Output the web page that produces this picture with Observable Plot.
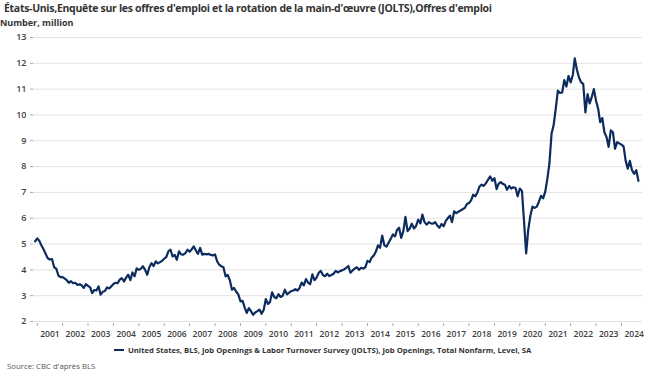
<!DOCTYPE html>
<html><head><meta charset="utf-8">
<script src="https://cdn.jsdelivr.net/npm/d3@7"></script>
<script src="https://cdn.jsdelivr.net/npm/@observablehq/plot@0.6"></script>
<style>
body{margin:0;background:#fff;font-family:"Open Sans",sans-serif;}
#wrap{position:relative;width:652px;height:381px;overflow:hidden;background:#fff;}
#title{position:absolute;left:4px;top:1px;font-size:10.5px;letter-spacing:-0.3px;font-weight:700;color:#333;white-space:nowrap;}
#sub{position:absolute;left:0px;top:16px;font-size:9px;font-weight:700;color:#333;white-space:nowrap;}
#chart{position:absolute;left:0;top:28px;}
#legend{position:absolute;left:114px;top:345px;font-size:7.7px;font-weight:700;color:#333;white-space:nowrap;display:flex;align-items:center;}
#legend .sw{display:inline-block;width:10px;height:2.5px;background:#0d2c5e;margin-right:4px;}
#source{position:absolute;left:7px;top:361px;font-size:7.8px;color:#555;white-space:nowrap;}
</style></head>
<body>
<div id="wrap">
  <div id="title"></div>
  <div id="sub"></div>
  <div id="chart"></div>
  <div id="legend"><span class="sw"></span><span id="legtext"></span></div>
  <div id="source"></div>
</div>
<script>
const titleText = "États-Unis,Enquête sur les offres d'emploi et la rotation de la main-d'œuvre (JOLTS),Offres d'emploi";
const subtitleText = "Number, million";
const seriesName = "United States, BLS, Job Openings & Labor Turnover Survey (JOLTS), Job Openings, Total Nonfarm, Level, SA";
const sourceText = "Source: CBC d'après BLS";

const startMonth = "2000-12";
const yTicks = [2,3,4,5,6,7,8,9,10,11,12,13];
const yearLabels = d3.range(2001, 2025);

// monthly values, millions (Dec 2000 onward)
const v2000 = [5.10];
const v2001 = [5.22,5.12,4.95,4.80,4.62,4.45,4.40,4.42,4.10,4.05,3.78,3.72];
const v2002 = [3.72,3.66,3.60,3.50,3.56,3.48,3.50,3.42,3.44,3.40,3.30,3.45];
const v2003 = [3.38,3.32,3.10,3.22,3.20,3.36,3.04,3.15,3.18,3.32,3.28,3.36];
const v2004 = [3.45,3.50,3.48,3.62,3.68,3.55,3.70,3.81,3.60,3.90,3.75,4.06];
const v2005 = [4.00,4.05,4.14,4.00,3.81,4.10,4.26,4.15,4.33,4.25,4.30,4.35];
const v2006 = [4.43,4.50,4.72,4.78,4.52,4.58,4.39,4.72,4.60,4.59,4.65,4.78];
const v2007 = [4.70,4.80,4.91,4.75,4.62,4.85,4.59,4.62,4.60,4.62,4.58,4.56];
const v2008 = [4.60,4.33,4.20,4.14,4.10,3.75,3.80,3.60,3.23,3.30,3.15,3.05];
const v2009 = [2.78,2.80,2.55,2.33,2.52,2.40,2.26,2.35,2.40,2.46,2.30,2.45];
const v2010 = [2.87,2.68,2.75,3.13,2.95,2.90,3.06,2.95,3.00,3.23,3.05,3.12];
const v2011 = [3.18,3.20,3.25,3.20,3.30,3.51,3.40,3.64,3.50,3.45,3.83,3.60];
const v2012 = [3.70,3.89,3.96,3.80,3.75,3.85,3.76,3.80,3.85,3.96,3.90,3.95];
const v2013 = [3.98,4.02,4.08,4.15,3.89,3.98,4.05,4.10,4.00,4.08,4.05,4.10];
const v2014 = [4.35,4.30,4.47,4.55,4.70,4.95,4.85,5.33,4.95,4.90,5.05,5.20];
const v2015 = [5.37,5.30,5.54,5.63,5.24,5.50,6.05,5.50,5.60,5.79,5.60,5.70];
const v2016 = [5.95,5.80,6.14,5.85,5.75,5.85,5.80,5.79,5.85,5.72,5.63,5.78];
const v2017 = [5.69,5.90,6.00,6.10,5.85,6.27,6.20,6.25,6.30,6.35,6.40,6.55];
const v2018 = [6.59,6.70,6.91,6.85,7.00,7.23,7.30,7.25,7.36,7.49,7.62,7.45];
const v2019 = [7.55,7.13,7.33,7.40,7.33,7.30,7.10,7.25,7.15,7.20,7.17,6.85];
const v2020 = [7.15,7.05,5.90,4.64,5.55,6.10,6.45,6.40,6.45,6.64,6.87,6.77];
const v2021 = [7.03,7.55,8.10,9.27,9.60,10.25,10.94,10.85,10.87,11.35,11.10,11.51];
const v2022 = [11.26,11.55,12.19,11.75,11.45,11.26,11.20,10.10,10.81,10.45,10.70,11.00];
const v2023 = [10.55,10.23,9.72,9.88,9.33,9.14,8.76,9.40,9.33,8.69,8.95,8.90];
const v2024 = [8.85,8.78,8.24,7.92,8.22,7.86,7.72,7.86,7.45];

const values = [].concat(v2000,v2001,v2002,v2003,v2004,v2005,v2006,v2007,v2008,v2009,v2010,v2011,v2012,
  v2013,v2014,v2015,v2016,v2017,v2018,v2019,v2020,v2021,v2022,v2023,v2024);
const start = d3.utcParse("%Y-%m")(startMonth);
const data = values.map((v,i)=>({date:d3.utcMonth.offset(start,i), value:v}));

const yearStarts = yearLabels.map(y=>new Date(Date.UTC(y,0,1)));
const yearMids = yearLabels.map(y=>new Date(Date.UTC(y,6,2)));

document.getElementById("title").textContent = titleText;
document.getElementById("sub").textContent = subtitleText;
document.getElementById("legtext").textContent = seriesName;
document.getElementById("source").textContent = sourceText;

const chart = Plot.plot({
  width: 652, height: 314,
  marginLeft: 33, marginRight: 10, marginTop: 9, marginBottom: 21,
  x: {type:"utc", domain:[new Date(Date.UTC(2000,10,8)), new Date(Date.UTC(2024,9,30))]},
  y: {domain:[2,13]},
  style: {fontFamily:"Open Sans, sans-serif", fontSize:"8.5px", color:"#404040", background:"#fff", overflow:"visible"},
  marks: [
    Plot.gridY(yTicks, {stroke:"#e3e3e3", strokeOpacity:1, strokeWidth:1}),
    Plot.axisY(yTicks, {tickSize:3, tickPadding:4, stroke:"#aaa", fontWeight:600, label:null, fontSize:9}),
    Plot.axisX(yearStarts, {tickSize:3, tickFormat:()=>"", stroke:"#aaa", label:null, dy:2}),
    Plot.axisX(yearMids, {tickSize:0, tickPadding:9, tickFormat:d3.utcFormat("%Y"), fontWeight:600, label:null}),
    Plot.lineY(data, {x:"date", y:"value", stroke:"#0d2c5e", strokeWidth:2.2, curve:"linear"})
  ]
});
document.getElementById("chart").appendChild(chart);
</script>
</body></html>
